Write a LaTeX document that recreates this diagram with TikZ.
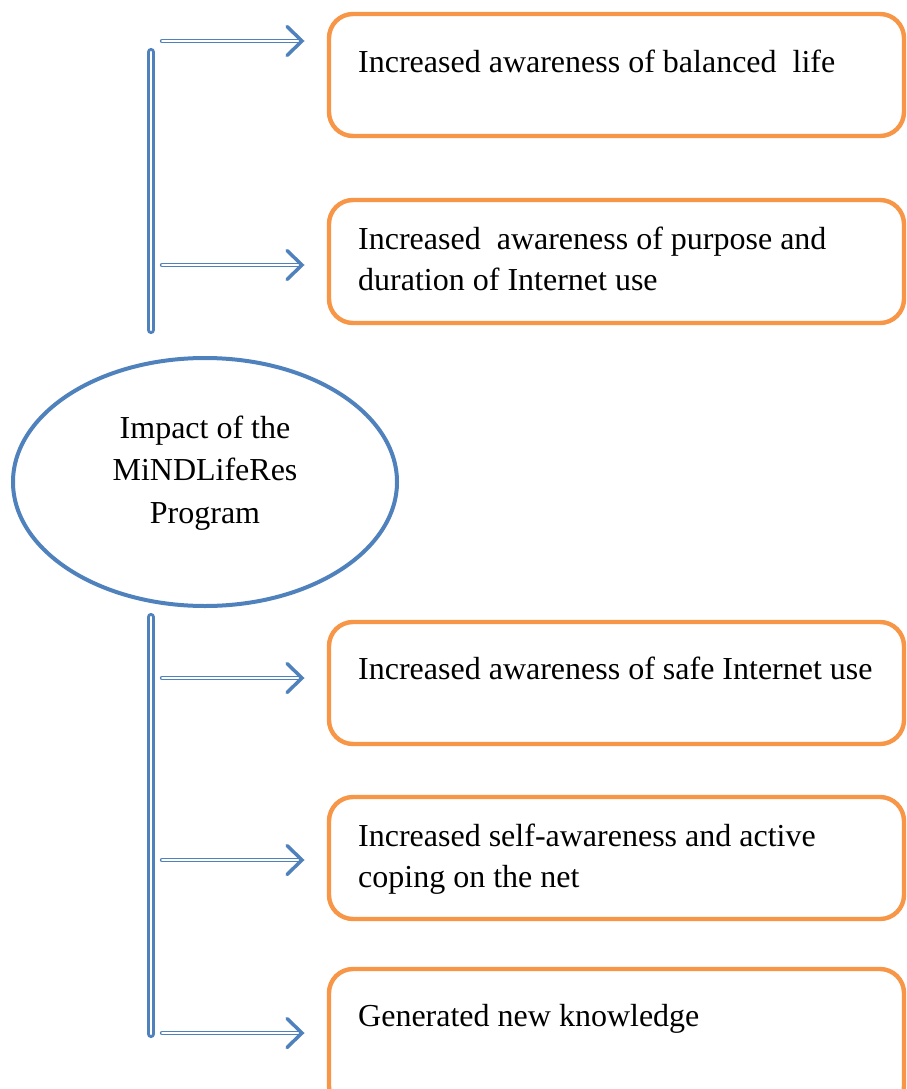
\documentclass[tikz,border=0pt]{standalone}
\usepackage{fontspec}
\setmainfont{Liberation Serif}
\usetikzlibrary{arrows.meta,shapes.geometric,calc}
\definecolor{blu}{HTML}{4F81BD}
\definecolor{org}{HTML}{F79646}
\begin{document}
\begin{tikzpicture}[x=1pt,y=-1pt,
  box/.style={draw=org,line width=4.4pt,rounded corners=24pt},
  txt/.style={anchor=base west,inner sep=0pt,font=\fontsize{32}{41}\selectfont},
  bar/.style={draw=blu,line width=2.8pt,double=white,double distance=2.6pt,line cap=round},
  shaft/.style={draw=blu,line width=1.4pt,double=white,double distance=1.6pt,line cap=round},
  head/.style={draw=blu,line width=3.5pt,line cap=round,line join=miter}]
\useasboundingbox (0,0) rectangle (906,1089);
\clip (0,0) rectangle (906,1089);
% boxes
\draw[box] (329,14) rectangle (904,136);
\draw[box] (329,200) rectangle (904,323);
\draw[box] (329,622) rectangle (904,744);
\draw[box] (329,797) rectangle (904,919);
\draw[box] (329,969) rectangle (904,1110);
\node[txt] (t1) at (358,72.5) {Increased awareness of balanced\ \ life};
\node[txt,align=left] (t2) at (358,290) {Increased\ \ awareness of purpose and\\duration of Internet use};
\node[txt] (t3) at (358,679) {Increased awareness of safe Internet use};
\node[txt,align=left] (t4) at (358,887) {Increased self-awareness and active\\coping on the net};
\node[txt] (t5) at (358,1026) {Generated new knowledge};
% ellipse
\node[draw=blu,line width=4pt,ellipse,minimum width=384pt,minimum height=248pt,inner sep=0pt] (e) at (205,482) {};
\node[align=center,font=\fontsize{32}{42.5}\selectfont,anchor=base] (et) at (205,523) {Impact of the\\MiNDLifeRes\\Program};
% bars
\coordinate (b1t) at (151,52);
\coordinate (b1b) at (151,330);
\coordinate (b2t) at (151,617);
\coordinate (b2b) at (151,1034);
\draw[bar] (b1t) -- (b1b);
\draw[bar] (b2t) -- (b2b);
% arrows
\foreach \i/\y in {1/41,2/265,3/678,4/860,5/1033}{
  \coordinate (s\i) at (162,\y);
  \coordinate (a\i) at (302,\y);
  \draw[shaft] (s\i) -- ($(a\i)+(-3,0)$);
  \draw[head] ($(a\i)+(-15,-14.5)$) -- (a\i) -- ($(a\i)+(-15,14.5)$);
}
\end{tikzpicture}
\end{document}
